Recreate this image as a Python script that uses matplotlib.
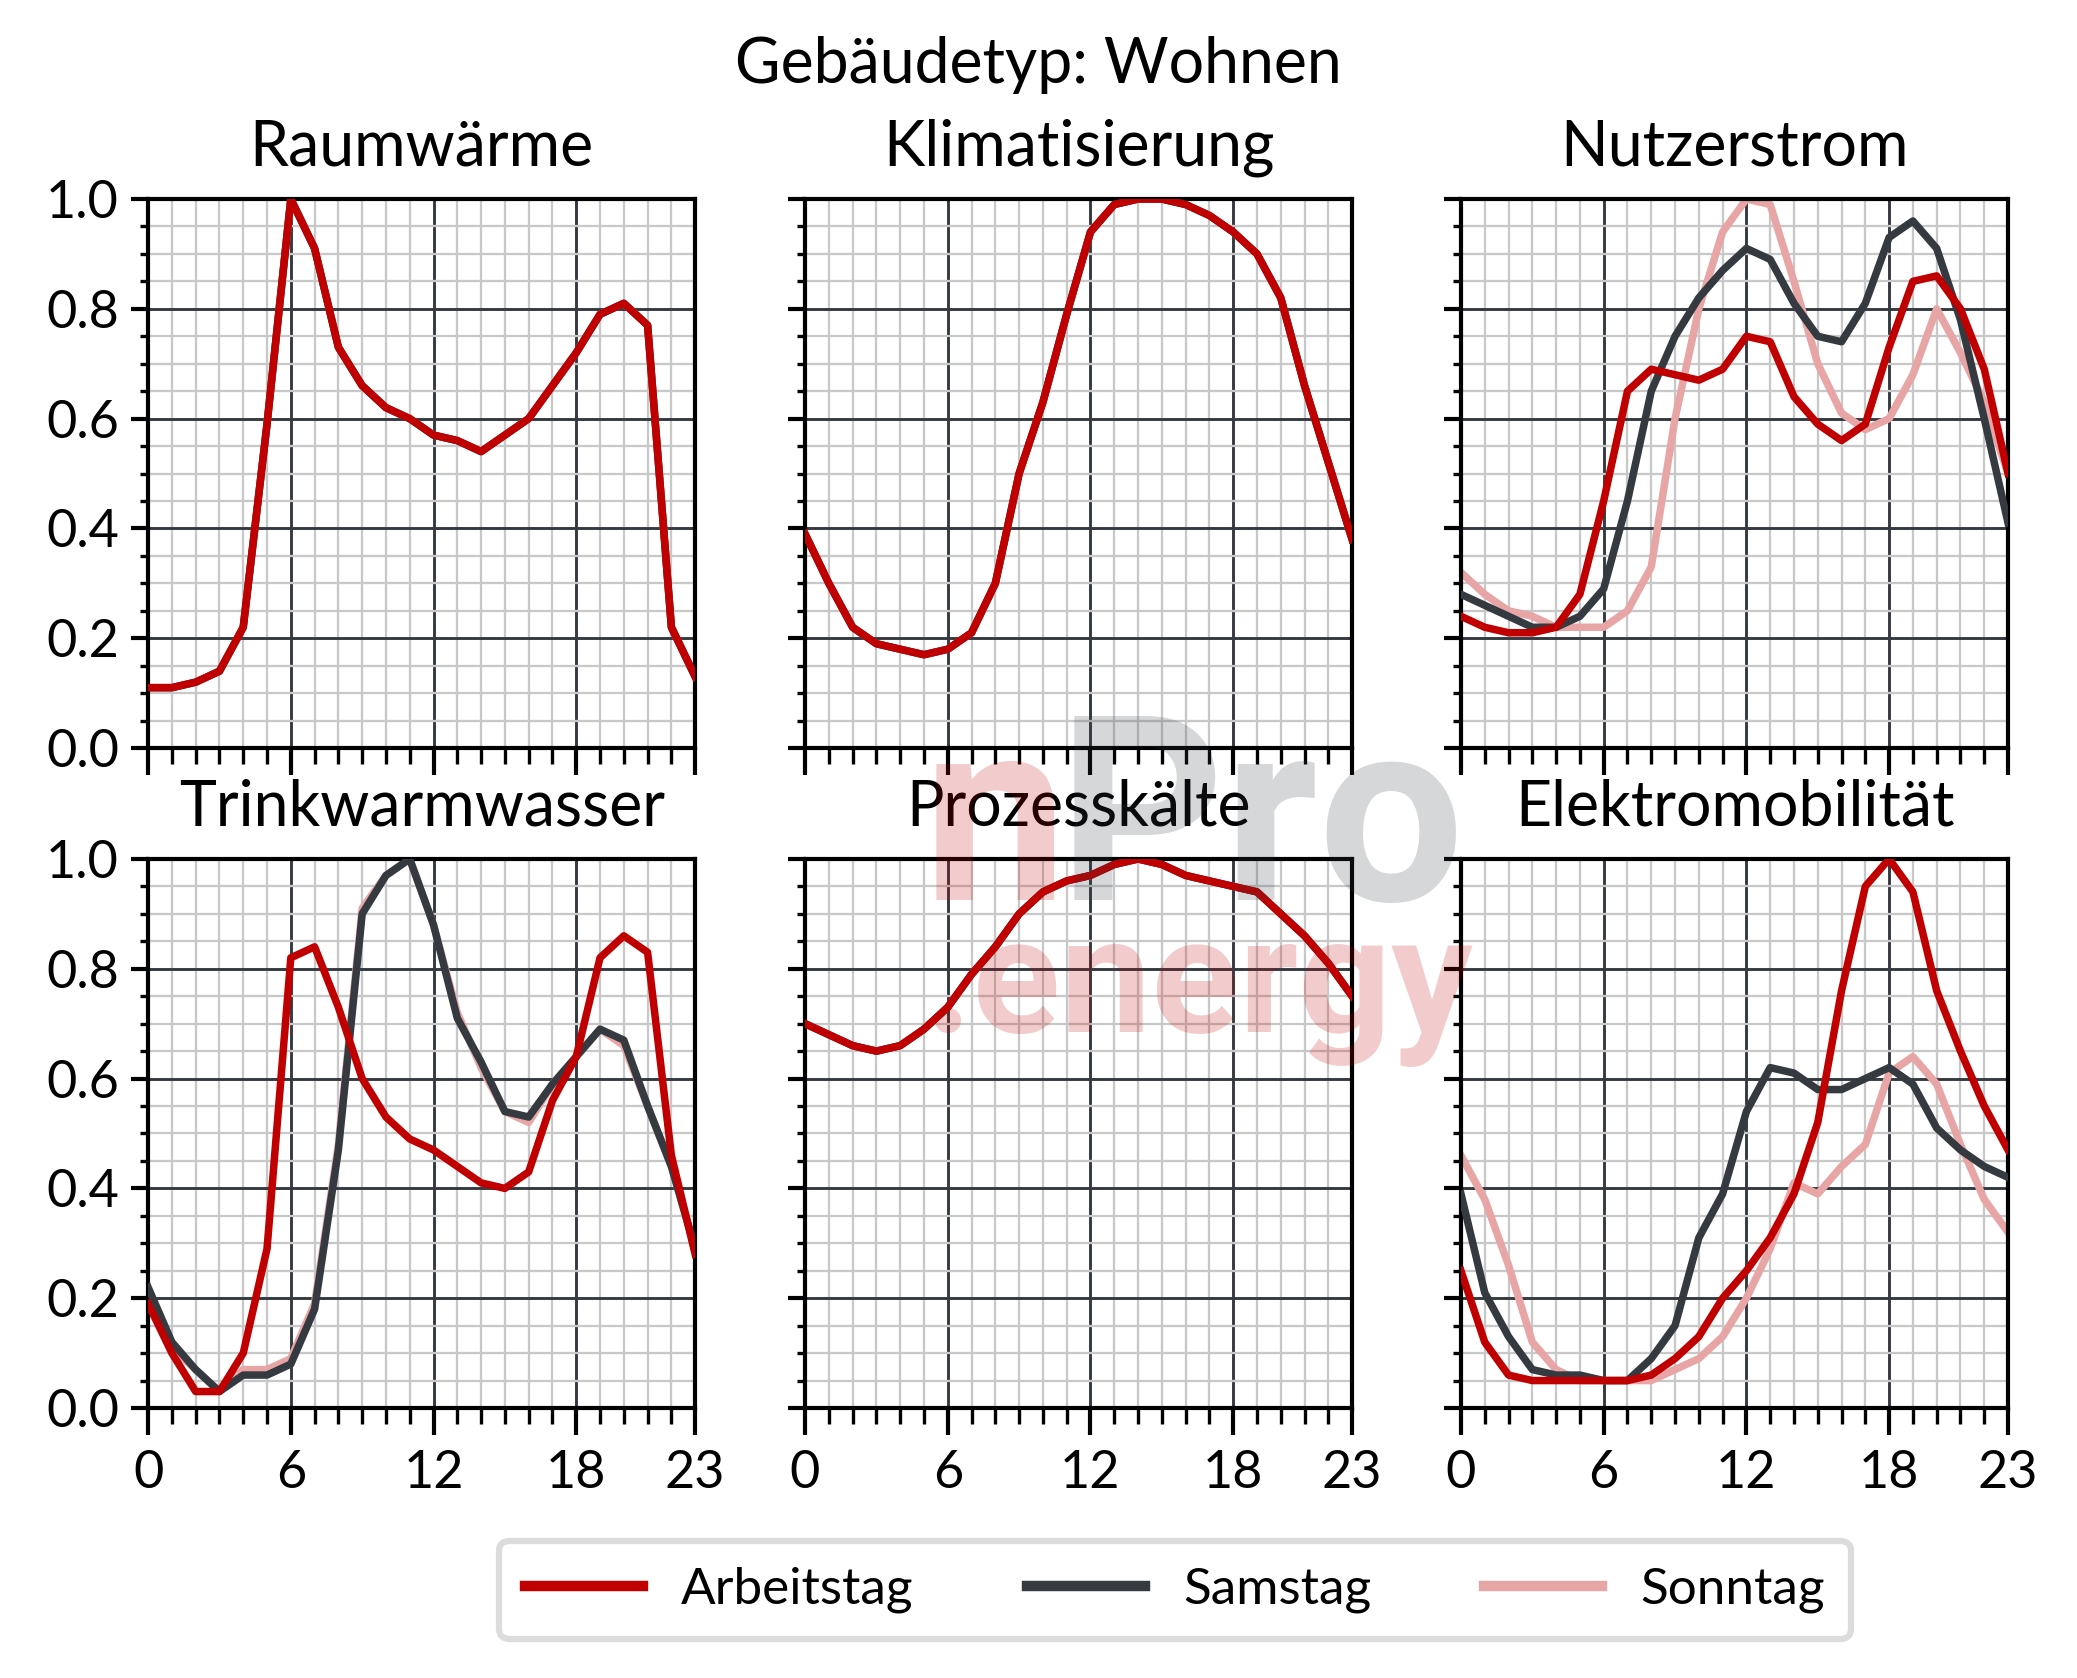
import numpy as np
import matplotlib
matplotlib.use("Agg")
import matplotlib.pyplot as plt
from matplotlib.ticker import MultipleLocator, FixedLocator, FormatStrFormatter

plt.rcParams["font.family"] = ["Lato", "DejaVu Sans"]

# Stunden des Tages
hours = list(range(24))
x_ticks = [0, 6, 12, 18, 23]

# Raumwärme (alle Tagtypen gleich)
raum_arbeit = [0.11, 0.11, 0.12, 0.14, 0.22, 0.59, 1.00, 0.91, 0.73, 0.66, 0.62, 0.60,
               0.57, 0.56, 0.54, 0.57, 0.60, 0.66, 0.72, 0.79, 0.81, 0.77, 0.22, 0.13]
raum_samstag = raum_arbeit
raum_sonntag = raum_arbeit

# Klimatisierung (alle Tagtypen gleich)
klima_arbeit = [0.39, 0.30, 0.22, 0.19, 0.18, 0.17, 0.18, 0.21, 0.30, 0.50, 0.63, 0.79,
                0.94, 0.99, 1.00, 1.00, 0.99, 0.97, 0.94, 0.90, 0.82, 0.66, 0.52, 0.38]
klima_samstag = klima_arbeit
klima_sonntag = klima_arbeit

# Nutzerstrom
strom_arbeit = [0.24, 0.22, 0.21, 0.21, 0.22, 0.28, 0.45, 0.65, 0.69, 0.68, 0.67, 0.69,
                0.75, 0.74, 0.64, 0.59, 0.56, 0.59, 0.73, 0.85, 0.86, 0.80, 0.69, 0.50]
strom_samstag = [0.28, 0.26, 0.24, 0.22, 0.22, 0.24, 0.29, 0.45, 0.65, 0.75, 0.82, 0.87,
                 0.91, 0.89, 0.81, 0.75, 0.74, 0.81, 0.93, 0.96, 0.91, 0.78, 0.60, 0.41]
strom_sonntag = [0.32, 0.28, 0.25, 0.24, 0.22, 0.22, 0.22, 0.25, 0.33, 0.60, 0.80, 0.94,
                 1.00, 0.99, 0.85, 0.70, 0.61, 0.58, 0.60, 0.68, 0.80, 0.72, 0.63, 0.50]

# Trinkwarmwasser
tww_arbeit = [0.19, 0.10, 0.03, 0.03, 0.10, 0.29, 0.82, 0.84, 0.73, 0.60, 0.53, 0.49,
              0.47, 0.44, 0.41, 0.40, 0.43, 0.56, 0.64, 0.82, 0.86, 0.83, 0.46, 0.28]
tww_samstag = [0.22, 0.12, 0.07, 0.03, 0.06, 0.06, 0.08, 0.18, 0.47, 0.90, 0.97, 1.00,
               0.88, 0.71, 0.63, 0.54, 0.53, 0.59, 0.64, 0.69, 0.67, 0.55, 0.44, 0.29]
tww_sonntag = [0.21, 0.11, 0.07, 0.03, 0.07, 0.07, 0.09, 0.19, 0.48, 0.91, 0.97, 1.00,
               0.88, 0.72, 0.62, 0.54, 0.52, 0.59, 0.64, 0.69, 0.66, 0.55, 0.44, 0.29]

# Prozesskälte (alle Tagtypen gleich)
kaelte_arbeit = [0.70, 0.68, 0.66, 0.65, 0.66, 0.69, 0.73, 0.79, 0.84, 0.90, 0.94, 0.96,
                 0.97, 0.99, 1.00, 0.99, 0.97, 0.96, 0.95, 0.94, 0.90, 0.86, 0.81, 0.75]
kaelte_samstag = kaelte_arbeit
kaelte_sonntag = kaelte_arbeit

# Elektromobilität
emob_arbeit = [0.25, 0.12, 0.06, 0.05, 0.05, 0.05, 0.05, 0.05, 0.06, 0.09, 0.13, 0.20,
               0.25, 0.31, 0.39, 0.52, 0.76, 0.95, 1.00, 0.94, 0.76, 0.65, 0.55, 0.47]
emob_samstag = [0.39, 0.21, 0.13, 0.07, 0.06, 0.06, 0.05, 0.05, 0.09, 0.15, 0.31, 0.39,
                0.54, 0.62, 0.61, 0.58, 0.58, 0.60, 0.62, 0.59, 0.51, 0.47, 0.44, 0.42]
emob_sonntag = [0.46, 0.38, 0.26, 0.12, 0.07, 0.05, 0.05, 0.05, 0.05, 0.07, 0.09, 0.13,
                0.20, 0.29, 0.41, 0.39, 0.44, 0.48, 0.61, 0.64, 0.59, 0.48, 0.38, 0.32]

titles = ["Raumwärme", "Klimatisierung", "Nutzerstrom",
          "Trinkwarmwasser", "Prozesskälte", "Elektromobilität"]
series = [
    (raum_arbeit, raum_samstag, raum_sonntag),
    (klima_arbeit, klima_samstag, klima_sonntag),
    (strom_arbeit, strom_samstag, strom_sonntag),
    (tww_arbeit, tww_samstag, tww_sonntag),
    (kaelte_arbeit, kaelte_samstag, kaelte_sonntag),
    (emob_arbeit, emob_samstag, emob_sonntag),
]
labels = ["Arbeitstag", "Samstag", "Sonntag"]
colors = ["#c00000", "#343a40", "#e8a5a5"]
zorders = [4, 3, 2]

fig = plt.figure(figsize=(2077 / 300, 1678 / 300), dpi=300)

lefts = [0.0713, 0.3876, 0.7034]
bottoms = [0.5542, 0.1609]
w, h = 0.2634, 0.3272

axes = []
for i in range(6):
    r, c = divmod(i, 3)
    ax = fig.add_axes([lefts[c], bottoms[r], w, h])
    axes.append(ax)
    for vals, lab, col, zo in zip(series[i], labels, colors, zorders):
        ax.plot(hours, vals, color=col, lw=1.8, label=lab, zorder=zo)
    ax.set_xlim(0, 23)
    ax.set_ylim(0, 1)
    ax.xaxis.set_major_locator(FixedLocator(x_ticks))
    ax.xaxis.set_minor_locator(MultipleLocator(1))
    ax.yaxis.set_major_locator(MultipleLocator(0.2))
    ax.yaxis.set_minor_locator(MultipleLocator(0.05))
    ax.yaxis.set_major_formatter(FormatStrFormatter("%.1f"))
    ax.grid(which="minor", color="#c8c8c8", lw=0.55, zorder=0)
    ax.grid(which="major", color="#343a40", lw=0.7, zorder=1)
    ax.set_axisbelow(True)
    for s in ax.spines.values():
        s.set_color("black")
        s.set_linewidth(1.0)
    ax.tick_params(axis="x", which="major", length=6.5, width=1.0, labelsize=12.5, pad=3.5)
    ax.tick_params(axis="x", which="minor", length=3.8, width=0.8)
    ax.tick_params(axis="y", which="major", length=4, width=1.0, labelsize=12.5, pad=3)
    ax.tick_params(axis="y", which="minor", length=2, width=0.8)
    if r == 0:
        ax.tick_params(axis="x", labelbottom=False)
    if c > 0:
        ax.tick_params(axis="y", labelleft=False)
    ax.set_title(titles[i], fontsize=15, pad=8)

fig.text(0.5, 1 - 83 / 1678, "Gebäudetyp: Wohnen", ha="center", va="baseline", fontsize=15)

# Legende unten
handles, labs = axes[2].get_legend_handles_labels()
leg = fig.legend(handles, labs, loc="center", bbox_to_anchor=(0.5657, 0.0524), ncol=3,
                 fontsize=12.3, handlelength=2.3, handletextpad=0.75, columnspacing=2.2,
                 frameon=True, fancybox=True, borderpad=0.5)
leg.get_frame().set_edgecolor("#d4d4d4")
leg.get_frame().set_linewidth(1.5)
for line in leg.get_lines():
    line.set_linewidth(2.5)

# Wasserzeichen
wm_font = ["Roboto", "DejaVu Sans"]
fig.text(0.4444, 0.4636, "n", color="#c00000", alpha=0.2, fontsize=62, fontweight="bold",
         family=wm_font, ha="left", va="baseline", zorder=10)
fig.text(0.5094, 0.4636, "Pro", color="#343a40", alpha=0.2, fontsize=62, fontweight="bold",
         family=wm_font, ha="left", va="baseline", zorder=10)
fig.text(0.4454, 0.385, ".energy", color="#c00000", alpha=0.2, fontsize=39, fontweight="bold",
         family=wm_font, ha="left", va="baseline", zorder=10)

fig.savefig("out.png", dpi=300)
